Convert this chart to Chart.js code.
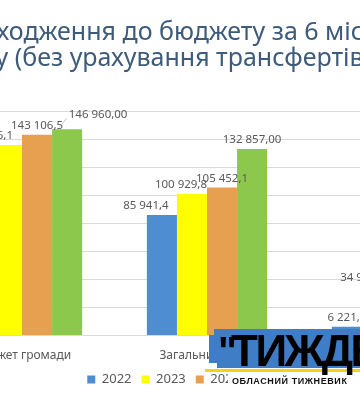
<!DOCTYPE html>
<html>
<head>
<meta charset="utf-8">
<script src="https://cdn.jsdelivr.net/npm/chart.js@4"></script>
<style>
  html,body{margin:0;padding:0;background:#fff;}
  body{width:360px;height:400px;overflow:hidden;position:relative;}
  #wrap{position:absolute;left:-103px;top:0;width:595px;height:400px;}
  .logo{position:absolute;font-family:"Liberation Sans",Arial,sans-serif;}
</style>
</head>
<body>
<div id="wrap"><canvas id="c"></canvas></div>

<div class="logo" style="left:214px;top:329px;width:146px;height:6px;background:#3F7EC6;"></div>
<div class="logo" style="left:209px;top:335px;width:151px;height:28px;background:#3F7EC6;"></div>
<div class="logo" style="left:217px;top:363px;width:143px;height:5px;background:#3F7EC6;"></div>
<div class="logo" style="left:205px;top:369px;width:155px;height:3px;background:#F2D21B;"></div>
<div class="logo" style="left:228px;top:373px;width:132px;height:16px;background:#fff;"></div>
<div class="logo" style="left:218px;top:329px;white-space:nowrap;font-weight:bold;font-size:40px;line-height:44px;color:#000;">"</div>
<div class="logo" style="left:231px;top:329px;white-space:nowrap;font-weight:bold;font-size:44px;line-height:44px;color:#000;letter-spacing:-2.5px;">ТИЖДЕНЬ"</div>
<div class="logo" style="left:232px;top:376px;white-space:nowrap;font-weight:bold;font-size:9px;line-height:11px;color:#111;letter-spacing:0.6px;">ОБЛАСНИЙ ТИЖНЕВИК</div>

<script>
const titleLines = ["Надходження до бюджету за 6 місяців   ", "року (без урахування трансфертів)         "];
const categories = ["Бюджет громади", "Загальний фонд", "Спеціальний фонд"];
const seriesNames = ["2022", "2023", "2024", "2025"];
const v2022 = [92162.9, 85941.4, 6221.5];
const v2023 = [135866.1, 100929.8, 34936.3];
const v2024 = [143106.5, 105452.1, 37654.4];
const v2025 = [146960.00, 132857.00, 14103.00];
const labelDecimals = [1, 1, 1, 2];
const yTicks = [0, 20000, 40000, 60000, 80000, 100000, 120000, 140000, 160000];

const colors = ["#4F8DD2", "#FFFF00", "#E6A050", "#8CC84B"];
const allValues = [v2022, v2023, v2024, v2025];

function fmt(v, d) {
  const s = v.toFixed(d);
  const parts = s.split(".");
  const int = parts[0].replace(/\B(?=(\d{3})+(?!\d))/g, " ");
  return parts.length > 1 ? int + "," + parts[1] : int;
}

const labelOffsets = { "1-0": [-20, 0], "0-1": [-16, 0], "1-1": [-11, 0], "3-0": [31, -6], "1-2": [-14, 0] };

const barLabels = {
  id: "barLabels",
  afterDatasetsDraw(chart) {
    const ctx = chart.ctx;
    ctx.save();
    chart.data.datasets.forEach((ds, di) => {
      const meta = chart.getDatasetMeta(di);
      meta.data.forEach((bar, i) => {
        const off = labelOffsets[di + "-" + i] || [0, 0];
        const x = bar.x + off[0];
        const y = bar.y - 9 + off[1];
        const txt = fmt(ds.data[i], labelDecimals[di]);
        ctx.font = "11.5px 'Noto Sans'";
        ctx.fillStyle = "#595959";
        ctx.textAlign = "center";
        ctx.textBaseline = "middle";
        ctx.fillText(txt, x, y);
        if (off[0] > 20) {
          const w = ctx.measureText(txt).width;
          ctx.strokeStyle = "#BFBFBF";
          ctx.lineWidth = 1;
          ctx.beginPath();
          ctx.moveTo(x - w / 2 - 2, y + 4);
          ctx.lineTo(bar.x - 8, bar.y - 2);
          ctx.stroke();
        }
      });
    });
    ctx.restore();
  }
};

new Chart(document.getElementById("c"), {
  type: "bar",
  data: {
    labels: categories,
    datasets: seriesNames.map((n, k) => ({
      label: n,
      data: allValues[k],
      backgroundColor: colors[k],
      borderWidth: 0,
      categoryPercentage: 0.65,
      barPercentage: 1.0
    }))
  },
  options: {
    responsive: true,
    maintainAspectRatio: false,
    animation: false,
    events: [],
    layout: { padding: { right: 7.5, bottom: 4, left: 0, top: 0 } },
    plugins: {
      title: {
        display: true,
        text: titleLines,
        color: "#3E5B7A",
        font: { family: "'Noto Sans'", size: 25, weight: "normal", lineHeight: 1.04 },
        padding: { top: 20, bottom: 39 }
      },
      legend: {
        position: "bottom",
        labels: {
          boxWidth: 8, boxHeight: 8, padding: 10,
          color: "#595959",
          font: { family: "'Noto Sans'", size: 13 }
        }
      },
      tooltip: { enabled: false }
    },
    scales: {
      x: {
        grid: { display: false, drawTicks: false },
        border: { display: false },
        afterFit(scale) { scale.height = 27.4; },
        ticks: { padding: 13, color: "#595959", font: { family: "'Noto Sans'", size: 12 }, autoSkip: false, maxRotation: 0 }
      },
      y: {
        min: yTicks[0],
        max: yTicks[yTicks.length - 1],
        afterBuildTicks(scale) { scale.ticks = yTicks.map(v => ({ value: v })); },
        afterFit(scale) { scale.width = 32.5; },
        ticks: { display: false },
        grid: { color: "#D9D9D9", drawTicks: false },
        border: { display: false }
      }
    }
  },
  plugins: [barLabels]
});
</script>
</body>
</html>
